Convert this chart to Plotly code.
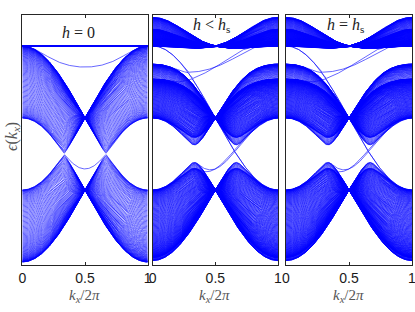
import numpy as np
import plotly.graph_objects as go

# ---- chart parameters (kagome ribbon band structures) ----
PANEL_LABELS = ["<i>h</i> = 0", "<i>h</i> &lt; <i>h</i><sub>s</sub>", "<i>h</i> = <i>h</i><sub>s</sub>"]
FLUX_PHASES = [[0.0], [0.14, 0.25], [0.14, 0.25]]
HOPPING = 1.0
N_CELLS = 90
K_POINTS = np.linspace(0.0, 1.0, 241)
X_TICKS = [0, 0.5, 1]
X_TICK_TEXT = ["0", "0.5", "1"]
Y_RANGE = [-4.083, 2.861]
X_LABEL = "<i>k</i><sub><i>x</i></sub>/2<i>π</i>"
Y_LABEL = "<i>ϵ</i>(<i>k</i><sub><i>x</i></sub>)"


def ribbon_bands(phi, t, n, ks):
    out = []
    for kk in ks:
        k = 2 * np.pi * kk
        H = np.zeros((3 * n, 3 * n), dtype=complex)

        def add(i, j, s):
            amp = -t * np.exp(1j * phi) * np.exp(1j * k * s)
            H[j, i] += amp
            H[i, j] += np.conj(amp)

        for m in range(n):
            a, b, c = 3 * m, 3 * m + 1, 3 * m + 2
            add(a, b, 0)
            add(b, c, 0)
            add(c, a, 0)
            add(a, b, -1)
            if m >= 1:
                add(b, 3 * (m - 1) + 2, 1)
                add(3 * (m - 1) + 2, a, 0)
        out.append(np.linalg.eigvalsh(H))
    return np.array(out)


fig = go.Figure()
x_px = [[22.3, 147.7], [152.7, 278.0], [286.0, 412.0]]
x_domains = [[a / 415, b / 415] for a, b in x_px]
y_domain = [(312 - 265) / 312, (312 - 15) / 312]
label_pos = [(78, 32.5), (211, 25.5), (345, 25.5)]
xlabel_x = [84, 214, 348]

for p in range(3):
    xs, ys = [], []
    for phi in FLUX_PHASES[p]:
        E = ribbon_bands(phi, HOPPING, N_CELLS, K_POINTS)
        for b in range(E.shape[1]):
            xs.extend(list(K_POINTS) + [None])
            ys.extend(list(E[:, b]) + [None])
    ax = "" if p == 0 else str(p + 1)
    fig.add_trace(go.Scatter(x=xs, y=ys, mode="lines",
                             line=dict(color="rgb(0,0,255)", width=0.6),
                             xaxis="x" + ax, yaxis="y" + ax,
                             hoverinfo="skip", showlegend=False))
    axis_common = dict(showline=True, linecolor="#262626", linewidth=1, mirror="ticks",
                       showgrid=False, zeroline=False, automargin=False)
    fig.layout["xaxis" + ax] = dict(domain=x_domains[p], range=[0, 1], anchor="y" + ax,
                                    tickvals=X_TICKS, ticktext=X_TICK_TEXT, ticks="inside",
                                    ticklen=3, tickcolor="#262626", ticklabeloverflow="allow",
                                    tickfont=dict(family="Liberation Sans, Arial", size=14, color="#1a1a1a"),
                                    **axis_common)
    fig.layout["yaxis" + ax] = dict(domain=y_domain, range=Y_RANGE, anchor="x" + ax,
                                    showticklabels=False, ticks="", **axis_common)
    fig.add_annotation(text=PANEL_LABELS[p], xref="paper", yref="paper",
                       x=label_pos[p][0] / 415, y=(312 - label_pos[p][1]) / 312,
                       xanchor="center", yanchor="middle", showarrow=False,
                       font=dict(family="Liberation Serif, serif", size=16, color="#222"))
    fig.add_annotation(text=X_LABEL, xref="paper", yref="paper",
                       x=xlabel_x[p] / 415, y=(312 - 296) / 312,
                       xanchor="center", yanchor="middle", showarrow=False,
                       font=dict(family="Liberation Serif, serif", size=15, color="#555"))

fig.add_annotation(text=Y_LABEL, xref="paper", yref="paper",
                   x=12 / 415, y=(312 - 137) / 312, textangle=-90,
                   xanchor="center", yanchor="middle", showarrow=False,
                   font=dict(family="Liberation Serif, serif", size=16, color="#555"))

fig.update_layout(width=415, height=312, margin=dict(l=0, r=0, t=0, b=0, autoexpand=False),
                  paper_bgcolor="white", plot_bgcolor="white")
fig.write_html("out.html", config={"displayModeBar": False},
               post_script="document.body.style.margin='0';document.body.style.overflow='hidden';")
